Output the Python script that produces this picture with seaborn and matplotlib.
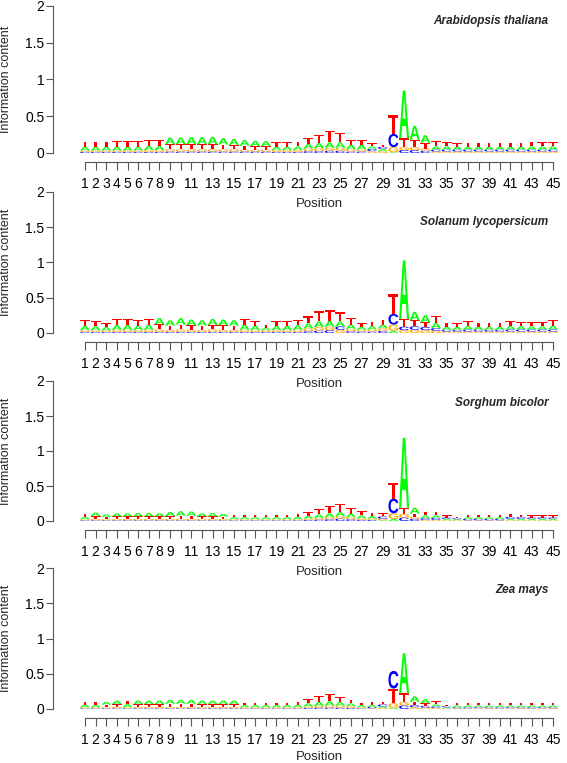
import seaborn as sns
import matplotlib.pyplot as plt
from matplotlib.textpath import TextPath
from matplotlib.font_manager import FontProperties
from matplotlib.patches import PathPatch
from matplotlib.transforms import Affine2D

# positions along the motif
positions = list(range(1, 46))
tick_labels = [str(p) if (p < 10 or p % 2 == 1) else '' for p in positions]

species = ['Arabidopsis thaliana', 'Solanum lycopersicum', 'Sorghum bicolor', 'Zea mays']

# information content per base (bits)
arab_A = [.05, .05, .05, .05, .05, .05, .055, .055, .09, .09, .095, .095, .10, .085, .08, .075, .07, .065,
          .045, .045, .05, .065, .07, .075, .075, .06, .06, .035, .03, .01, .65, .19, .10, .045, .045, .04,
          .04, .04, .04, .04, .04, .04, .045, .045, .045]
arab_C = [.015, .015, .015, .015, .015, .015, .015, .015, .02, .02, .02, .02, .02, .02, .02, .02, .02, .02,
          .015, .015, .015, .025, .025, .03, .03, .02, .02, .03, .03, .18, .04, .04, .03, .025, .025, .025,
          .025, .025, .025, .025, .025, .025, .025, .025, .025]
arab_G = [.02, .02, .02, .02, .02, .02, .025, .025, .03, .03, .03, .03, .03, .03, .03, .025, .025, .025,
          .025, .025, .025, .035, .04, .04, .04, .03, .03, .025, .025, .07, .04, .04, .03, .02, .02, .02,
          .02, .02, .02, .02, .02, .02, .02, .02, .02]
arab_T = [.07, .07, .07, .075, .075, .08, .085, .08, .07, .07, .07, .07, .07, .065, .06, .055, .05, .05,
          .065, .065, .065, .085, .11, .16, .13, .07, .07, .04, .03, .26, .12, .10, .08, .07, .06, .045,
          .055, .055, .055, .055, .055, .055, .065, .055, .06]

sola_A = [.06, .055, .05, .07, .07, .065, .07, .085, .075, .09, .08, .075, .085, .08, .075, .075, .06, .035,
          .06, .06, .065, .07, .08, .08, .07, .06, .045, .05, .05, .03, .83, .12, .10, .07, .045, .04,
          .05, .045, .045, .045, .05, .045, .045, .045, .055]
sola_C = [.015, .015, .015, .015, .015, .015, .015, .015, .015, .015, .015, .015, .015, .015, .015, .015, .015, .015,
          .015, .015, .015, .025, .035, .04, .05, .025, .02, .02, .03, .15, .05, .05, .045, .04, .025, .025,
          .03, .025, .025, .025, .03, .03, .03, .03, .03]
sola_G = [.025, .025, .02, .03, .03, .025, .03, .035, .03, .035, .03, .03, .035, .03, .03, .03, .025, .025,
          .025, .025, .03, .04, .05, .05, .045, .035, .025, .03, .04, .09, .04, .045, .04, .03, .02, .02,
          .02, .02, .02, .02, .02, .02, .02, .02, .02]
sola_T = [.08, .075, .055, .085, .085, .075, .09, .075, .06, .07, .065, .06, .065, .065, .06, .08, .07, .045,
          .07, .07, .08, .10, .15, .16, .13, .09, .05, .06, .07, .28, .11, .085, .065, .10, .055, .05,
          .07, .055, .055, .055, .07, .06, .06, .06, .075]

sorg_A = [.035, .05, .04, .045, .045, .05, .05, .045, .06, .065, .06, .045, .05, .04, .03, .03, .03, .03,
          .03, .03, .035, .04, .05, .055, .06, .05, .04, .035, .01, .03, 1.0, .085, .04, .035, .02, .015,
          .025, .025, .025, .025, .02, .02, .02, .02, .02]
sorg_C = [.01, .01, .01, .01, .01, .01, .01, .01, .01, .01, .01, .01, .01, .01, .01, .01, .01, .01,
          .01, .01, .01, .015, .02, .025, .035, .025, .015, .015, .035, .21, .05, .03, .025, .03, .02, .015,
          .02, .02, .02, .02, .03, .025, .02, .02, .02]
sorg_G = [.015, .02, .015, .02, .02, .02, .02, .02, .02, .02, .02, .02, .02, .02, .015, .015, .015, .015,
          .015, .015, .015, .02, .025, .03, .035, .03, .025, .02, .02, .08, .05, .03, .015, .015, .01, .01,
          .01, .01, .01, .01, .01, .01, .01, .01, .01]
sorg_T = [.04, .04, .03, .035, .035, .035, .035, .035, .04, .045, .045, .035, .035, .03, .035, .035, .035, .035,
          .035, .035, .04, .055, .075, .10, .12, .085, .06, .05, .045, .23, .09, .045, .05, .05, .03, .02,
          .035, .03, .03, .03, .04, .035, .03, .03, .03]

zea_A = [.035, .035, .04, .05, .045, .05, .05, .05, .055, .055, .055, .05, .05, .05, .05, .03, .03, .03,
         .03, .03, .035, .045, .055, .06, .05, .04, .03, .03, .02, .02, .57, .08, .06, .03, .015, .025,
         .025, .025, .025, .025, .025, .025, .025, .025, .025]
zea_C = [.01, .01, .01, .01, .01, .01, .01, .01, .01, .01, .01, .01, .01, .01, .01, .01, .01, .01,
         .01, .01, .01, .015, .02, .02, .02, .015, .01, .02, .03, .25, .05, .03, .025, .02, .015, .015,
         .015, .015, .015, .015, .015, .015, .015, .015, .015]
zea_G = [.015, .015, .015, .02, .015, .02, .02, .02, .02, .02, .02, .02, .02, .02, .02, .015, .015, .015,
         .015, .015, .015, .02, .025, .03, .03, .025, .015, .01, .015, .06, .05, .025, .02, .015, .01, .01,
         .01, .01, .01, .01, .01, .01, .01, .01, .01]
zea_T = [.04, .04, .035, .04, .05, .04, .04, .04, .045, .045, .045, .04, .04, .04, .04, .035, .035, .035,
         .035, .035, .04, .06, .08, .10, .07, .05, .035, .04, .035, .21, .12, .045, .035, .045, .02, .035,
         .035, .035, .035, .035, .035, .035, .035, .035, .035]

logos = {
    'Arabidopsis thaliana': {'A': arab_A, 'C': arab_C, 'G': arab_G, 'T': arab_T},
    'Solanum lycopersicum': {'A': sola_A, 'C': sola_C, 'G': sola_G, 'T': sola_T},
    'Sorghum bicolor': {'A': sorg_A, 'C': sorg_C, 'G': sorg_G, 'T': sorg_T},
    'Zea mays': {'A': zea_A, 'C': zea_C, 'G': zea_G, 'T': zea_T},
}
title_y = [1.80, 1.575, 1.69, 1.69]

base_colors = {'A': '#00FF00', 'C': '#0000FF', 'G': '#FFA500', 'T': '#FF0000'}

sns.set_style('ticks')
plt.rcParams['font.family'] = ['Liberation Sans', 'DejaVu Sans']
plt.rcParams['axes.edgecolor'] = '#555555'
plt.rcParams['xtick.color'] = '#555555'
plt.rcParams['ytick.color'] = '#555555'
plt.rcParams['xtick.labelcolor'] = 'black'
plt.rcParams['ytick.labelcolor'] = 'black'

letter_font = FontProperties(family='Liberation Sans', weight='bold')


def draw_letter(ax, letter, x, y0, h, width=0.94):
    tp = TextPath((0, 0), letter, size=1, prop=letter_font)
    bb = tp.get_extents()
    tr = (Affine2D().translate(-bb.x0, -bb.y0)
          .scale(width / bb.width, h / bb.height)
          .translate(x - width / 2, y0))
    ax.add_patch(PathPatch(tr.transform_path(tp), facecolor=base_colors[letter],
                           edgecolor='none'))


W, H = 567, 763
fig = plt.figure(figsize=(W / 100, H / 100), dpi=100)

# pixel rows of y=0 and y=2 in each panel
panel_rows = [(153, 6), (333, 192), (521, 381), (709, 568)]
x_left, x_right = 79.7, 558.3

for i, name in enumerate(species):
    y0_px, y2_px = panel_rows[i]
    ax = fig.add_axes([x_left / W, (H - y0_px) / H, (x_right - x_left) / W, (y0_px - y2_px) / H])
    ax.patch.set_visible(False)
    heights = logos[name]
    for j, p in enumerate(positions):
        stack = sorted(heights.keys(), key=lambda b: heights[b][j])
        base = 0.0
        for b in stack:
            h = heights[b][j]
            draw_letter(ax, b, p, base, h)
            base += h
    ax.set_xlim(0.5, 45.5)
    ax.set_ylim(0, 2)
    ax.set_xticks(positions)
    ax.set_xticklabels(tick_labels, fontsize=9.5)
    ax.set_yticks([0, 0.5, 1, 1.5, 2])
    ax.set_yticklabels(['0', '0.5', '1', '1.5', '2'], fontsize=9.5)
    ax.tick_params(axis='x', length=6, width=0.8, pad=5)
    ax.tick_params(axis='y', length=5, width=0.8, pad=1.5)
    ax.set_xlabel('Position', fontsize=9.5, labelpad=5 if i < 3 else 2.5)
    ax.set_ylabel('Information content', fontsize=9)
    ax.yaxis.set_label_coords(-0.1415, 0.5)
    ax.text(44.6, title_y[i], name, ha='right', va='center', fontsize=8.5,
            fontweight='bold', fontstyle='italic')
    sns.despine(ax=ax, offset={'left': 19, 'bottom': 6.5}, trim=True)
    for s in ['left', 'bottom']:
        ax.spines[s].set_linewidth(0.8)

fig.savefig('out.png', dpi=100)
